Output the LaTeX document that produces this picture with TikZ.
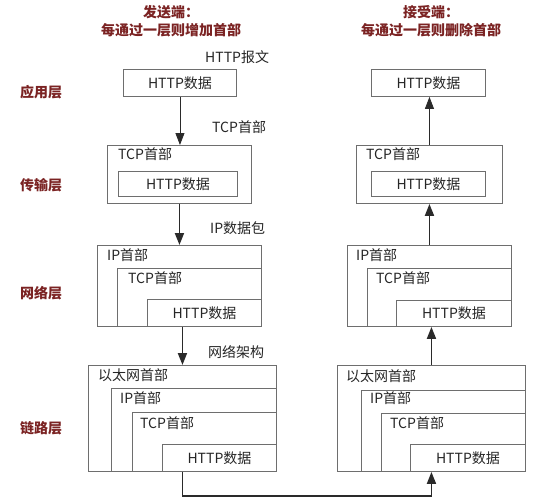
\documentclass[tikz,border=0pt]{standalone}
\usepackage{fontspec}
\setmainfont{Noto Sans CJK SC}
\usetikzlibrary{arrows.meta}
\definecolor{ttl}{HTML}{7B2323}
\definecolor{txt}{HTML}{262626}
\definecolor{edge}{HTML}{6E6E6E}
\definecolor{arr}{HTML}{2A2A2A}
\begin{document}
\begin{tikzpicture}[x=1pt,y=-1pt,
  box/.style={draw=edge,line width=0.9pt,inner sep=0pt,anchor=north west,
    text=txt,font=\fontsize{14}{15}\selectfont},
  hdr/.style={anchor=west,inner sep=0pt,text=txt,font=\fontsize{14}{15}\selectfont},
  lbl/.style={anchor=west,inner sep=0pt,text=txt,font=\fontsize{14}{15}\selectfont},
  layer/.style={inner sep=0pt,text=ttl,font=\bfseries\fontsize{14}{16}\selectfont},
  ttlstyle/.style={inner sep=0pt,text=ttl,align=center,font=\bfseries\fontsize{14}{17.5}\selectfont},
  thin/.style={draw=arr,line width=0.8pt,-{Triangle[length=12pt,width=9pt]}},
  thick/.style={draw=arr,line width=1.8pt,-{Triangle[length=12pt,width=9pt]}}]
\useasboundingbox (0,0) rectangle (553,500);
\fill[white] (0,0) rectangle (553,500);

% titles
\node[ttlstyle] (t1) at (171,21) {发送端：\\每通过一层则增加首部};
\node[ttlstyle] (t2) at (431,21) {接受端：\\每通过一层则删除首部};

% layer labels
\node[layer] (l1) at (41,92) {应用层};
\node[layer] (l2) at (41,185) {传输层};
\node[layer] (l3) at (41,293) {网络层};
\node[layer] (l4) at (41,428) {链路层};

% ---------- left (sender) ----------
\node[box,minimum width=113pt,minimum height=27pt] (la) at (123,69) {HTTP数据};

\node[box,minimum width=144pt,minimum height=58pt] (lt) at (107,145) {};
\node[box,minimum width=119pt,minimum height=25pt] (lti) at (118,171) {HTTP数据};
\node[hdr] (lth) at ([shift={(11,9)}]lt.north west) {TCP首部};

\node[box,minimum width=164pt,minimum height=81pt] (ln) at (97,245) {};
\node[box,minimum width=144pt,minimum height=58pt] (lnt) at (117,268) {};
\node[box,minimum width=114pt,minimum height=27pt] (lnh) at (147,299) {HTTP数据};
\node[hdr] (lnh1) at ([shift={(10,10)}]ln.north west) {IP首部};
\node[hdr] (lnh2) at ([shift={(11,10)}]lnt.north west) {TCP首部};

\node[box,minimum width=188pt,minimum height=106pt] (ll) at (88,365) {};
\node[box,minimum width=165pt,minimum height=83pt] (lli) at (111,388) {};
\node[box,minimum width=144pt,minimum height=59pt] (llt) at (132,412) {};
\node[box,minimum width=114pt,minimum height=27pt] (llh) at (162,444) {HTTP数据};
\node[hdr] (llh1) at ([shift={(10,10)}]ll.north west) {以太网首部};
\node[hdr] (llh2) at ([shift={(9,10)}]lli.north west) {IP首部};
\node[hdr] (llh3) at ([shift={(8,11)}]llt.north west) {TCP首部};

% ---------- right (receiver) ----------
\node[box,minimum width=114pt,minimum height=27pt] (ra) at (371,69) {HTTP数据};

\node[box,minimum width=146pt,minimum height=58pt] (rt) at (356,145) {};
\node[box,minimum width=114pt,minimum height=25pt] (rti) at (371,171) {HTTP数据};
\node[hdr] (rth) at ([shift={(10,9)}]rt.north west) {TCP首部};

\node[box,minimum width=164pt,minimum height=81pt] (rn) at (347,245) {};
\node[box,minimum width=144pt,minimum height=58pt] (rnt) at (367,268) {};
\node[box,minimum width=115pt,minimum height=26pt] (rnh) at (396,300) {HTTP数据};
\node[hdr] (rnh1) at ([shift={(9,10)}]rn.north west) {IP首部};
\node[hdr] (rnh2) at ([shift={(9,10)}]rnt.north west) {TCP首部};

\node[box,minimum width=188pt,minimum height=106pt] (rl) at (337,365) {};
\node[box,minimum width=164pt,minimum height=81pt] (rli) at (361,390) {};
\node[box,minimum width=144pt,minimum height=58pt] (rlt) at (381,413) {};
\node[box,minimum width=115pt,minimum height=27pt] (rlh) at (410,444) {HTTP数据};
\node[hdr] (rlh1) at ([shift={(9,11)}]rl.north west) {以太网首部};
\node[hdr] (rlh2) at ([shift={(9,8)}]rli.north west) {IP首部};
\node[hdr] (rlh3) at ([shift={(9,10)}]rlt.north west) {TCP首部};

% outer labels
\node[lbl] (o1) at (205,57) {HTTP报文};
\node[lbl] (o2) at (212,127) {TCP首部};
\node[lbl] (o3) at (210,228) {IP数据包};
\node[lbl] (o4) at (208,352) {网络架构};

% connectors (sender goes down)
\draw[thin] (la.south) -- (la.south |- lt.north);
\draw[thick] (lt.south) -- (lt.south |- ln.north);
\draw[thick] ([xshift=3pt]ln.south) -- ([xshift=3pt]ln.south |- ll.north);
% bottom link
\draw[thick] (ll.south) -- ++(0,24) -| (rl.south);
% receiver goes up
\draw[thick] (rl.north) -- (rl.north |- rn.south);
\draw[thick] (rn.north) -- (rn.north |- rt.south);
\draw[thin] (rt.north) -- (rt.north |- ra.south);
\end{tikzpicture}
\end{document}
